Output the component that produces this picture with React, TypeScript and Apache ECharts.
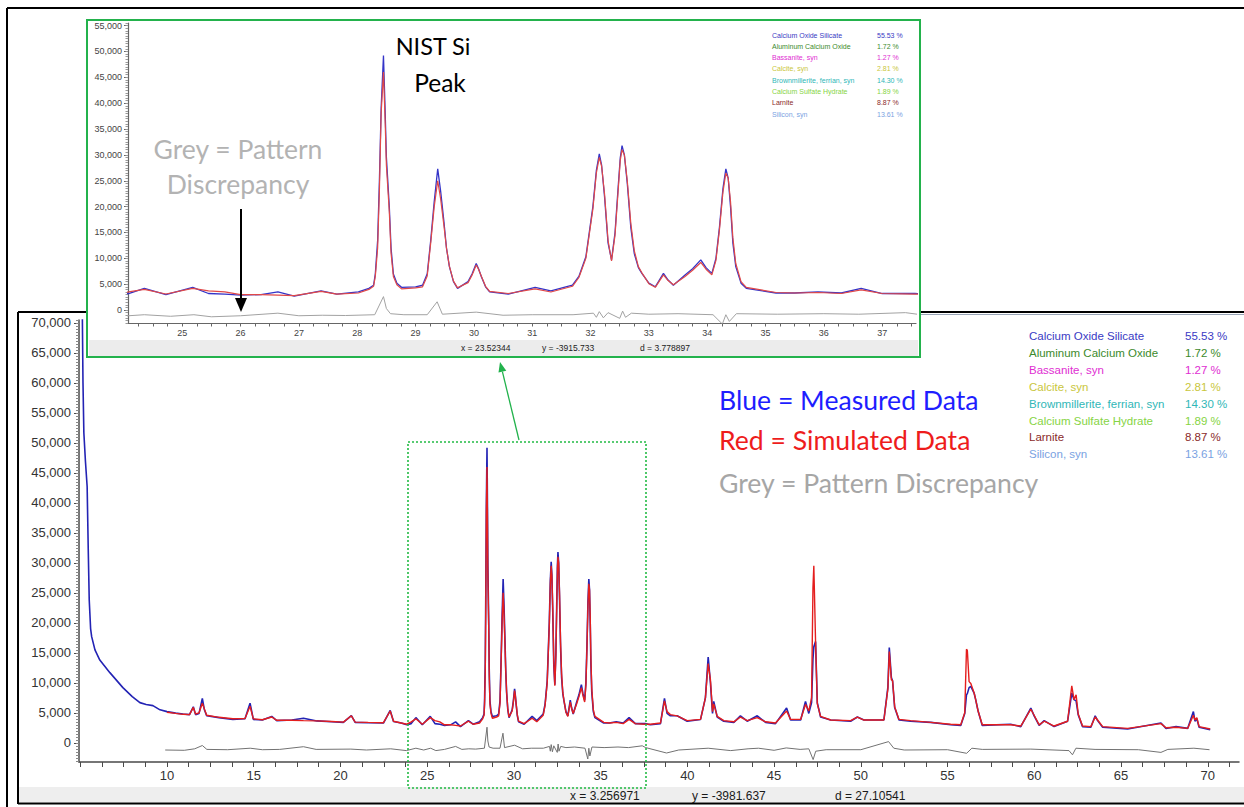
import React, { useEffect, useRef } from "react";
import * as echarts from "echarts";

// ---------- DATA ----------
// Measured pattern (blue): [2theta, counts]
const measured: number[][] = [
  [5.08, 80000], [5.12, 72000], [5.16, 60000], [5.21, 51700], [5.3, 47000], [5.4, 42700], [5.46, 32700],
  [5.52, 23800], [5.6, 19000], [5.66, 17700], [5.85, 15500], [6.13, 13800], [6.71, 11700], [7.46, 9200],
  [8.0, 7700], [8.44, 6700], [8.8, 6400], [9.19, 6200], [9.6, 5500],
  [10.0, 5200], [10.5, 4950], [10.92, 4800], [11.3, 4700], [11.52, 6000], [11.65, 4700], [11.85, 4900],
  [12.04, 7400], [12.15, 5600], [12.29, 4500], [13.0, 4200], [13.8, 3900], [14.5, 4000], [14.79, 6600],
  [14.98, 3900], [15.5, 3800], [16.04, 4400], [16.33, 3700], [17.2, 3800], [17.87, 4100], [18.64, 3650],
  [19.5, 3500], [20.17, 3400], [20.63, 4550], [20.85, 3400], [21.6, 3350], [22.48, 3300], [22.87, 5400],
  [23.06, 3550], [23.5, 3300], [23.83, 3000],
  [24.08, 3200], [24.35, 4200], [24.72, 3000], [25.18, 4400], [25.45, 3200], [25.73, 3100], [26.0, 2900],
  [26.35, 3000], [26.64, 3500], [26.92, 2700], [27.38, 3700], [27.65, 3100], [28.02, 3500], [28.2, 4200],
  [28.28, 4800], [28.31, 7000], [28.35, 13500], [28.38, 25000], [28.41, 39000], [28.45, 49200], [28.48, 38000],
  [28.5, 29600], [28.55, 20000], [28.58, 12000], [28.62, 7000], [28.68, 5200], [28.76, 4400], [29.0, 4500],
  [29.12, 4800], [29.2, 7000], [29.26, 13500], [29.32, 21000], [29.38, 27300], [29.43, 23000], [29.49, 16700],
  [29.53, 12000], [29.58, 8400], [29.65, 5500], [29.72, 4200], [29.9, 5500], [29.97, 7000], [30.04, 9000],
  [30.08, 8000], [30.13, 6400], [30.2, 4500], [30.27, 3500], [30.59, 3100], [31.05, 4400], [31.32, 3700],
  [31.69, 4800], [31.8, 6500], [31.92, 10300], [32.04, 20000], [32.1, 27000], [32.15, 30200], [32.19, 28000],
  [32.24, 21900], [32.3, 13000], [32.36, 9700], [32.42, 15000], [32.47, 23200], [32.51, 29500], [32.54, 31800],
  [32.58, 30000], [32.63, 24500], [32.69, 16000], [32.75, 10900], [32.82, 8200], [32.88, 7100], [33.0, 5200],
  [33.11, 4500], [33.18, 5800], [33.25, 7100], [33.33, 5800], [33.42, 4800], [33.62, 6800], [33.75, 8000],
  [33.89, 9700], [33.98, 8200], [34.08, 7100], [34.15, 10000], [34.21, 16000], [34.27, 23500], [34.32, 27300],
  [34.36, 25500], [34.4, 20000], [34.44, 13000], [34.49, 8400], [34.58, 5200], [34.67, 4200],
  [35.18, 3300], [35.5, 3300], [35.9, 3500], [36.3, 3300], [36.64, 4200], [37.0, 3200], [37.56, 3200],
  [37.87, 3000], [38.45, 3200], [38.68, 7400], [38.83, 4900], [39.02, 4500], [39.41, 4500], [39.99, 3600],
  [40.76, 3900], [41.04, 7500], [41.2, 14300], [41.33, 10000], [41.45, 4900], [41.52, 6900], [41.72, 4300],
  [42.1, 3600], [42.68, 3400], [43.06, 4500], [43.45, 3600], [44.03, 4500], [44.51, 3400], [45.08, 3200],
  [45.72, 5800], [45.95, 3800], [46.53, 3800], [46.81, 6900], [47.0, 4900], [47.16, 6700], [47.24, 14000],
  [47.29, 16000], [47.39, 16900], [47.49, 6700], [47.68, 4300], [48.26, 3800], [49.41, 3600], [49.8, 4300],
  [50.18, 3800], [51.33, 3800], [51.56, 9300], [51.64, 15900], [51.76, 10900], [51.83, 10300], [51.95, 5900],
  [52.2, 3800], [52.87, 3600], [54.03, 3400], [55.18, 3000], [55.76, 2900], [55.99, 4900], [56.09, 8000],
  [56.14, 8200], [56.24, 9200], [56.34, 9400], [56.53, 8300], [56.62, 7200], [56.76, 5300], [57.0, 2900],
  [58.64, 3100], [59.22, 2700], [59.8, 5800], [59.99, 4500], [60.28, 2900], [60.57, 3700], [61.14, 2700],
  [61.92, 3600], [62.16, 8300], [62.29, 7200], [62.41, 7000], [62.53, 4700], [62.78, 2700], [63.26, 2600],
  [63.51, 4500], [63.65, 3700], [63.94, 2600], [65.38, 2300], [67.3, 3300], [67.59, 2400], [68.17, 2700],
  [68.84, 2400], [69.17, 5200], [69.26, 3600], [69.37, 4000], [69.5, 2600], [70.14, 2200],
];

// Simulated pattern (red)
const simulated: number[][] = [
  [10.0, 5100], [10.5, 4900], [10.92, 4750], [11.3, 4700], [11.52, 5900], [11.65, 4800], [11.85, 5000],
  [12.04, 6600], [12.15, 5700], [12.29, 4600], [13.0, 4250], [13.8, 4000], [14.5, 4050], [14.79, 6100],
  [14.98, 4000], [15.5, 3850], [16.04, 4300], [16.33, 3750], [17.2, 3750], [17.87, 3700], [18.64, 3650],
  [19.5, 3550], [20.17, 3450], [20.63, 4500], [20.85, 3450], [21.6, 3400], [22.48, 3350], [22.87, 5300],
  [23.06, 3600], [23.5, 3300], [23.83, 3100],
  [24.08, 3500], [24.35, 4000], [24.72, 3100], [25.18, 4200], [25.45, 3700], [25.73, 3500], [26.0, 3000],
  [26.35, 3000], [26.64, 2900], [26.92, 2800], [27.38, 3600], [27.65, 3100], [28.02, 3300], [28.2, 4000],
  [28.28, 4600], [28.31, 6500], [28.35, 12000], [28.38, 23000], [28.41, 38000], [28.45, 46000], [28.48, 36000],
  [28.5, 28000], [28.55, 19000], [28.58, 11000], [28.62, 6500], [28.68, 4900], [28.76, 4100], [29.0, 4300],
  [29.12, 4500], [29.2, 6600], [29.26, 13000], [29.32, 20000], [29.38, 25000], [29.43, 21500], [29.49, 16000],
  [29.53, 12000], [29.58, 8500], [29.65, 5600], [29.72, 4300], [29.9, 5300], [29.97, 6800], [30.04, 8700],
  [30.08, 7900], [30.13, 6500], [30.2, 4600], [30.27, 3600], [30.59, 3200], [31.05, 4100], [31.32, 3500],
  [31.69, 4600], [31.8, 6300], [31.92, 10000], [32.04, 19500], [32.1, 26500], [32.15, 29500], [32.19, 27800],
  [32.24, 22500], [32.3, 13500], [32.36, 9500], [32.42, 14500], [32.47, 22500], [32.51, 29000], [32.54, 31000],
  [32.58, 30000], [32.63, 25000], [32.69, 16800], [32.75, 11500], [32.82, 8400], [32.88, 7200], [33.0, 5100],
  [33.11, 4400], [33.18, 5600], [33.25, 6800], [33.33, 5700], [33.42, 4900], [33.62, 6500], [33.75, 7700],
  [33.89, 9200], [33.98, 7900], [34.08, 6800], [34.15, 9600], [34.21, 15500], [34.27, 22800], [34.32, 26500],
  [34.36, 25500], [34.4, 21000], [34.44, 14000], [34.49, 9000], [34.58, 5500], [34.67, 4400],
  [35.18, 3400], [35.5, 3300], [35.9, 3400], [36.3, 3200], [36.64, 3900], [37.0, 3200], [37.56, 3100],
  [37.87, 3100], [38.45, 3300], [38.68, 7000], [38.83, 5200], [39.02, 4700], [39.41, 4500], [39.99, 3700],
  [40.76, 3900], [41.04, 7500], [41.2, 13200], [41.33, 10500], [41.45, 5200], [41.52, 6500], [41.72, 4400],
  [42.1, 3700], [42.68, 3500], [43.06, 4300], [43.45, 3700], [44.03, 4200], [44.51, 3500], [45.08, 3300],
  [45.72, 5300], [45.95, 3900], [46.53, 3900], [46.81, 6400], [47.0, 5300], [47.16, 7500], [47.24, 25800],
  [47.29, 29500], [47.39, 16900], [47.49, 6500], [47.68, 4400], [48.26, 3800], [49.41, 3700], [49.8, 4300],
  [50.18, 3800], [51.33, 3800], [51.56, 9000], [51.64, 15200], [51.76, 10500], [51.83, 10400], [51.95, 6000],
  [52.2, 3900], [52.87, 3700], [54.03, 3400], [55.18, 3100], [55.76, 3000], [55.99, 5000], [56.09, 15600],
  [56.14, 15400], [56.24, 10200], [56.34, 9900], [56.53, 8300], [56.62, 7200], [56.76, 5300], [57.0, 3000],
  [58.64, 3000], [59.22, 2800], [59.8, 5600], [59.99, 4600], [60.28, 3000], [60.57, 3600], [61.14, 2800],
  [61.92, 3600], [62.16, 9500], [62.29, 7200], [62.41, 8000], [62.53, 4800], [62.78, 2800], [63.26, 2700],
  [63.51, 4300], [63.65, 3800], [63.94, 2700], [65.38, 2400], [67.3, 3200], [67.59, 2500], [68.17, 2600],
  [68.84, 2400], [69.17, 4600], [69.26, 3800], [69.37, 4200], [69.5, 2700], [70.14, 2300],
];

// Pattern discrepancy (grey), as plotted (offset below zero)
const discrepancy: number[][] = [
  [9.9, -1200], [11.0, -1250], [11.6, -1000], [12.04, -450], [12.3, -1100], [13.5, -1150], [14.8, -900],
  [15.5, -1150], [16.5, -1100], [17.87, -650], [18.6, -1100], [20.6, -1050], [21.5, -1200], [22.9, -1000],
  [23.8, -1300], [24.35, -900], [24.8, -1200], [25.2, -900], [25.5, -1300], [26.0, -1100], [26.64, -600],
  [27.0, -1100], [27.4, -1000], [27.8, -1050], [28.3, -900], [28.45, 2600], [28.5, 300], [28.57, -700],
  [28.8, -900], [29.2, -900], [29.37, 1600], [29.46, -800], [30.04, -400], [30.5, -1000], [31.0, -900],
  [31.7, -900], [32.05, -600], [32.1, -1400], [32.15, -300], [32.22, -1500], [32.3, -500], [32.5, -1600],
  [32.55, -200], [32.6, -1400], [32.7, -600], [33.0, -800], [33.5, -700], [34.1, -900], [34.26, -2700],
  [34.32, -900], [34.38, -2200], [34.5, -700], [35.2, -800], [36.0, -700], [36.6, -800], [37.4, -500],
  [37.6, -800], [38.8, -1700], [39.5, -1200], [41.2, -900], [42.5, -1300], [43.5, -1000], [44.1, -900],
  [45.0, -1250], [45.7, -850], [46.5, -1100], [47.0, -1000], [47.25, -2800], [47.4, -1400], [48.0, -1150],
  [50.0, -1150], [51.6, 200], [51.9, -900], [52.5, -1200], [55.0, -1150], [56.1, -1750], [56.4, -900],
  [57.0, -1100], [59.8, -1050], [62.0, -1300], [62.2, -2000], [62.4, -900], [63.5, -1100], [66.0, -1150],
  [67.3, -1600], [67.7, -1100], [69.2, -900], [70.1, -1150],
];

const mainXLabels = [10, 15, 20, 25, 30, 35, 40, 45, 50, 55, 60, 65, 70];
const mainYLabels = [0, 5000, 10000, 15000, 20000, 25000, 30000, 35000, 40000, 45000, 50000, 55000, 60000, 65000, 70000];
const insetXLabels = [25, 26, 27, 28, 29, 30, 31, 32, 33, 34, 35, 36, 37];
const insetYLabels = [0, 5000, 10000, 15000, 20000, 25000, 30000, 35000, 40000, 45000, 50000, 55000];

const phaseNames = [
  "Calcium Oxide Silicate",
  "Aluminum Calcium Oxide",
  "Bassanite, syn",
  "Calcite, syn",
  "Brownmillerite, ferrian, syn",
  "Calcium Sulfate Hydrate",
  "Larnite",
  "Silicon, syn",
];
const phasePercents = ["55.53 %", "1.72 %", "1.27 %", "2.81 %", "14.30 %", "1.89 %", "8.87 %", "13.61 %"];
const mainStatus = ["x = 3.256971", "y = -3981.637", "d = 27.10541"];
const insetStatus = ["x = 23.52344", "y = -3915.733", "d = 3.778897"];

// ---------- STYLE ----------
const phaseColors = ["#3a3ac4", "#3c8a2c", "#e02ed2", "#c9c63c", "#2fb7b7", "#86d444", "#8a2a2a", "#7aa2e2"];

function steps(start: number, end: number, step: number): number[] {
  const out: number[] = [];
  for (let v = start; v <= end + 1e-9; v += step) out.push(Math.round(v * 10000) / 10000);
  return out;
}

const fmt = (v: number) => v.toLocaleString("en-US");

function txt(x: number, y: number, text: string, fill: string, size: number, family: string, align = "left") {
  return {
    type: "text",
    x,
    y,
    silent: true,
    z: 100,
    style: {
      text,
      fill,
      font: `${size}px "${family}"`,
      textAlign: align,
      align,
      textVerticalAlign: "middle",
      verticalAlign: "middle",
    },
  };
}

function line(x1: number, y1: number, x2: number, y2: number, stroke: string, w: number, dash?: number[]) {
  return {
    type: "line",
    silent: true,
    z: 100,
    shape: { x1, y1, x2, y2 },
    style: { stroke, lineWidth: w, lineDash: dash },
  };
}

export default function App() {
  const ref = useRef<HTMLDivElement>(null);

  useEffect(() => {
    if (!ref.current) return;
    const chart = echarts.init(ref.current, null, { renderer: "svg" });

    const axisColor = "#4a4a4a";
    const mainFont = "Liberation Sans";

    const graphics: any[] = [];
    // outer frame
    graphics.push(line(7, 8, 1244, 8, "#000", 2));
    graphics.push(line(7, 8, 7, 807, "#000", 2));
    // main panel frame
    graphics.push(line(18, 312, 87, 312, "#000", 2));
    graphics.push(line(920, 312, 1244, 312, "#000", 2));
    graphics.push(line(920, 314.5, 1244, 314.5, "#9aa6b8", 1));
    graphics.push(line(18, 312, 18, 804, "#000", 2));
    // status bars
    graphics.push({ type: "rect", silent: true, z: 1, shape: { x: 19, y: 787, width: 1225, height: 15 }, style: { fill: "#eeeeee" } });
    graphics.push({ type: "rect", silent: true, z: 1, shape: { x: 89, y: 340, width: 829, height: 16 }, style: { fill: "#ececec" } });
    graphics.push(line(18, 803.5, 1244, 803.5, "#000", 2));
    // inset frame
    graphics.push({
      type: "rect",
      silent: true,
      z: 100,
      shape: { x: 87, y: 20, width: 833, height: 337 },
      style: { fill: "none", stroke: "#23b24c", lineWidth: 2 },
    });
    // status texts
    const mainStatusX = [570, 692, 835];
    mainStatus.forEach((s, i) => graphics.push(txt(mainStatusX[i], 796, s, "#1a1a1a", 12, mainFont)));
    const insetStatusX = [461, 542, 640];
    insetStatus.forEach((s, i) => graphics.push(txt(insetStatusX[i], 348, s, "#222", 8.5, mainFont)));

    // legends
    phaseNames.forEach((n, i) => {
      const y = 336 + i * 16.9;
      graphics.push(txt(1029, y, n, phaseColors[i], 11.5, mainFont));
      graphics.push(txt(1185, y, phasePercents[i], phaseColors[i], 11.5, mainFont));
      const yi = 35 + i * 11.33;
      graphics.push(txt(772, yi, n, phaseColors[i], 7, mainFont));
      graphics.push(txt(877, yi, phasePercents[i], phaseColors[i], 7, mainFont));
    });

    // annotations
    graphics.push(txt(433, 46, "NIST Si", "#000", 23.5, "Lato", "center"));
    graphics.push(txt(440, 82, "Peak", "#000", 24.5, "Lato", "center"));
    graphics.push(txt(238, 149, "Grey = Pattern", "#b3b3b3", 26.5, "Lato", "center"));
    graphics.push(txt(238, 184, "Discrepancy", "#b3b3b3", 26.5, "Lato", "center"));
    graphics.push(txt(719, 400, "Blue = Measured Data", "#1e1eff", 26.6, "Lato"));
    graphics.push(txt(719, 440, "Red = Simulated Data", "#ee1c1c", 26.6, "Lato"));
    graphics.push(txt(719, 483, "Grey = Pattern Discrepancy", "#a6a6a6", 26.6, "Lato"));

    // black arrow
    graphics.push(line(241, 209, 241, 300, "#000", 2));
    graphics.push({
      type: "polygon",
      silent: true,
      z: 100,
      shape: { points: [[235, 298], [247, 298], [241, 312]] },
      style: { fill: "#000" },
    });
    // dotted zoom box
    graphics.push({
      type: "rect",
      silent: true,
      z: 100,
      shape: { x: 408, y: 442, width: 238, height: 346 },
      style: { fill: "none", stroke: "#22bb44", lineWidth: 1.6, lineDash: [2, 2] },
    });
    // green arrow
    graphics.push(line(519, 440, 502.4, 371.7, "#22b24c", 1.3));
    graphics.push({
      type: "polygon",
      silent: true,
      z: 100,
      shape: { points: [[500, 362], [506.3, 370.8], [498.5, 372.6]] },
      style: { fill: "#22b24c" },
    });

    const mkLine = (data: number[][], xi: number, yi: number, color: string, width: number, z: number) => ({
      type: "line",
      xAxisIndex: xi,
      yAxisIndex: yi,
      data,
      showSymbol: false,
      symbol: "none",
      silent: true,
      clip: true,
      z,
      lineStyle: { color, width },
    });

    const option: any = {
      animation: false,
      backgroundColor: "#ffffff",
      grid: [
        { left: 79, top: 320, width: 1160, height: 442 },
        { left: 128, top: 23, width: 788, height: 300 },
      ],
      xAxis: [
        {
          type: "value",
          gridIndex: 0,
          min: 4.93,
          max: 71.8,
          axisLine: { show: true, onZero: false, lineStyle: { color: axisColor, width: 1.5 } },
          axisTick: { show: true, length: 5, customValues: steps(5, 71.25, 1.25), lineStyle: { color: axisColor } },
          axisLabel: { customValues: mainXLabels, margin: 7, color: "#333", fontSize: 13, fontFamily: mainFont },
          splitLine: { show: false },
        },
        {
          type: "value",
          gridIndex: 1,
          min: 24.07,
          max: 37.58,
          axisLine: { show: true, onZero: false, lineStyle: { color: "#666", width: 1.2 } },
          axisTick: { show: true, length: 3.5, customValues: steps(24.25, 37.5, 0.25), lineStyle: { color: "#666" } },
          axisLabel: { customValues: insetXLabels, margin: 5, color: "#444", fontSize: 9, fontFamily: mainFont },
          splitLine: { show: false },
        },
      ],
      yAxis: [
        {
          type: "value",
          gridIndex: 0,
          position: "left",
          min: -3200,
          max: 70500,
          axisLine: { show: true, onZero: false, lineStyle: { color: axisColor, width: 1.5 } },
          axisTick: { show: true, length: 5, customValues: mainYLabels, lineStyle: { color: axisColor } },
          axisLabel: { customValues: mainYLabels, formatter: fmt, margin: 8, color: "#333", fontSize: 13, fontFamily: mainFont },
          splitLine: { show: false },
        },
        {
          type: "value",
          gridIndex: 0,
          position: "left",
          offset: 0,
          min: -3200,
          max: 70500,
          axisLine: { show: false, onZero: false },
          axisTick: { show: true, length: 3, customValues: steps(-3000, 70500, 500), lineStyle: { color: "#888" } },
          axisLabel: { show: false },
          splitLine: { show: false },
        },
        {
          type: "value",
          gridIndex: 1,
          position: "left",
          min: -2500,
          max: 55500,
          axisLine: { show: true, onZero: false, lineStyle: { color: "#666", width: 1.2 } },
          axisTick: { show: true, length: 4, customValues: insetYLabels, lineStyle: { color: "#666" } },
          axisLabel: { customValues: insetYLabels, formatter: fmt, margin: 6, color: "#444", fontSize: 9, fontFamily: mainFont },
          splitLine: { show: false },
        },
        {
          type: "value",
          gridIndex: 1,
          position: "left",
          offset: 0,
          min: -2500,
          max: 55500,
          axisLine: { show: false, onZero: false },
          axisTick: { show: true, length: 2.5, customValues: steps(-2500, 55500, 500), lineStyle: { color: "#999" } },
          axisLabel: { show: false },
          splitLine: { show: false },
        },
      ],
      series: [
        mkLine(discrepancy, 0, 0, "#727272", 1, 2),
        mkLine(measured, 0, 0, "#2323b4", 1.6, 3),
        mkLine(simulated, 0, 0, "#e41e1e", 1.4, 4),
        mkLine(discrepancy, 1, 2, "#a2a2a2", 1, 2),
        mkLine(measured, 1, 2, "#3434c8", 1.3, 3),
        mkLine(simulated, 1, 2, "#e04848", 1.2, 4),
      ],
      graphic: { elements: graphics },
    };

    chart.setOption(option);
    return () => chart.dispose();
  }, []);

  return (
    <div
      ref={ref}
      style={{ position: "absolute", left: 0, top: 0, width: 1244, height: 807, background: "#fff" }}
    />
  );
}
